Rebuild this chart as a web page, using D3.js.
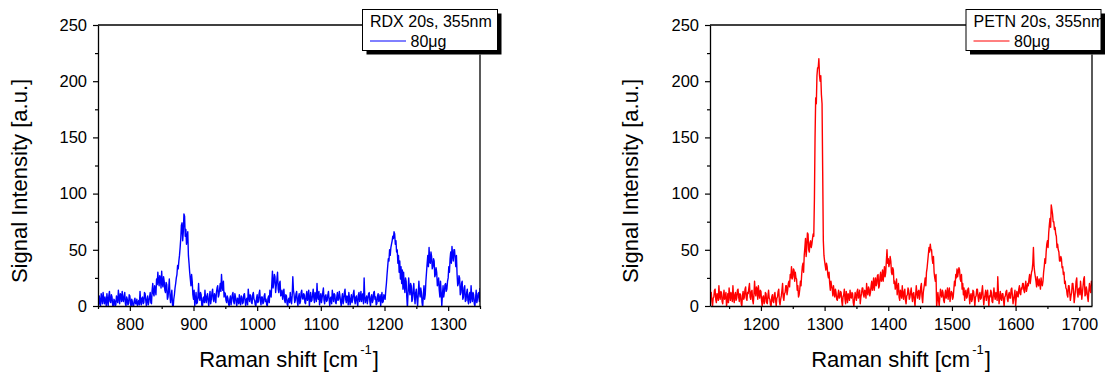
<!DOCTYPE html>
<html>
<head>
<meta charset="utf-8">
<script src="https://cdn.jsdelivr.net/npm/d3@7"></script>
<style>
  body { margin: 0; background: #fff; }
  svg { display: block; font-family: "Liberation Sans", Arial, sans-serif; }
</style>
</head>
<body>
<svg id="chart" width="1109" height="373"></svg>
<script>
// tick labels
const yTicks = [0, 50, 100, 150, 200, 250];
const rdxTicks = [800, 900, 1000, 1100, 1200, 1300];
const petnTicks = [1200, 1300, 1400, 1500, 1600, 1700];

// spectra, one value every 1 cm-1 (rows of 20)
const shiftStep = 1;
const rdxStart = 750;
const rdxIntensity = [
  5, 1, 9, 3, 0, 11, 7, 2, 12, 6, 2, 8, 4, 0, 11, 5, 0, 9, 13, 4,
  3, 10, 8, 1, -2, 6, 5, 0, 1, 9, 6, 3, 14, 7, 2, 11, 10, 4, 13, 6,
  4, 9, 12, 2, 0, 8, 6, 1, 2, 10, 9, 3, -1, 6, 4, 0, 0, 5, 7, 2,
  2, 6, 0, 3, 5, 1, 13, 4, 1, 7, 8, 2, 3, 12, 11, 5, 0, 6, 9, 1,
  4, 8, 12, 3, 2, 14, 20, 11, 9, 18, 15, 10, 24, 19, 30, 22, 18, 27, 25, 16,
  31, 20, 17, 26, 22, 14, 12, 21, 19, 6, 8, 15, 24, 10, 3, 9, 14, 1, -2, 6,
  10, 16, 20, 25, 28, 36, 33, 40, 45, 52, 60, 72, 74, 58, 66, 82, 80, 62, 68, 55,
  62, 66, 45, 38, 30, 24, 18, 28, 22, 10, 6, 14, 0, 5, 12, 2, 3, 9, 20, 7,
  5, 12, 10, 1, -2, 7, 8, 3, 14, 6, 3, 9, 11, 4, 0, 8, 13, 2, 6, 12,
  15, 6, 4, 11, 9, 3, 12, 16, 18, 8, 10, 15, 20, 13, 28, 17, 14, 22, 8, 12,
  11, 5, 3, 9, 7, 2, 0, 6, 9, 1, 5, 10, 12, 4, 2, 11, 8, 3, 0, 7,
  6, 2, 10, 4, 1, 9, 8, 2, 3, 10, 11, 5, 0, 6, 7, 1, 15, 8, 4, 10,
  9, 3, 2, 10, 12, 6, 5, 1, 0, 7, 10, 3, 4, 11, 14, 5, 1, 8, 8, 2,
  3, 9, 11, 4, 6, 1, 0, 7, 9, 3, 14, 10, 8, 20, 31, 16, 20, 28, 26, 12,
  18, 24, 30, 15, 12, 20, 22, 9, 10, 14, 6, 11, 15, 5, 3, 10, 9, 2, 0, 6,
  7, 3, 12, 6, 2, 9, 26, 14, 10, 3, 5, 11, 13, 4, 0, 8, 11, 2, 4, 12,
  14, 7, 6, 11, 10, 3, 2, 9, 13, 5, 8, 14, 0, 6, 12, 4, 5, 10, 15, 7,
  3, 12, 9, 4, 20, 8, 6, 13, 1, 7, 11, 3, 7, 12, 16, 5, 2, 9, 10, 4,
  5, 10, 13, 6, 0, 7, 8, 2, 14, 9, 4, 11, 10, 3, 2, 8, 12, 5, 6, 13,
  9, 4, 0, 7, 11, 2, 5, 12, 15, 6, 3, 9, 8, 1, 12, 7, 1, 6, 10, 3,
  6, 11, 14, 5, 2, 8, 9, 3, 0, 10, 12, 4, 7, 13, 4, 9, 11, 2, 25, 8,
  3, 7, 9, 2, 6, 11, 12, 4, 0, 8, 10, 3, 5, 12, 13, 6, 8, 1, 2, 9,
  11, 4, 6, 10, 0, 7, 12, 3, 4, 10, 9, 6, 14, 20, 28, 35, 42, 40, 50, 45,
  52, 55, 58, 62, 60, 66, 64, 55, 58, 48, 50, 38, 45, 30, 40, 24, 35, 20, 32, 15,
  30, 18, 12, 25, 22, 8, -2, 12, 25, 15, 10, 20, 18, 4, 6, 15, 20, 9, 2, 12,
  15, 6, 0, 10, 22, 12, 8, 16, 12, 3, -1, 10, 18, 6, 10, 22, 30, 38, 45, 35,
  52, 40, 38, 48, 44, 33, 35, 42, 40, 26, 28, 34, 30, 18, 20, 25, 14, 8, 22, 12,
  0, 10, 18, 8, 12, 19, 20, 13, 15, 22, 25, 35, 30, 42, 48, 38, 53, 45, 40, 50,
  50, 42, 35, 45, 28, 18, 20, 27, 25, 10, 12, 20, 22, 6, 8, 16, 18, 4, 5, 12,
  15, 5, 2, 10, 12, 3, 18, 8, 4, 12, 10, 2, 0, 7, 14, 3, 6, 11, 12, 4,
  16
];
const petnStart = 1120;
const petnIntensity = [
  5, 9, 12, 4, 0, 7, 8, 14, 15, 6, 3, 11, 10, 5, 18, 9, 6, 13, 12, 4,
  2, 9, 14, 6, 8, 12, 0, 5, 11, 3, 16, 10, 5, 12, 9, 4, 18, 8, 3, 10,
  12, 5, 7, 14, 15, 8, 4, 11, 10, 2, 0, 9, 13, 6, 8, 15, 17, 7, 5, 12,
  11, 16, 20, 8, 6, 13, 14, 5, 2, 10, 22, 12, 9, 17, 15, 6, 18, 11, 7, 14,
  13, 5, 0, 8, 9, 2, 4, 12, 11, 3, 2, 9, 14, 7, 6, 1, 0, 8, 10, 4,
  3, 10, 12, 5, 0, 7, 8, 13, 15, 4, 1, 6, 9, 14, 20, 8, 5, 11, 12, 18,
  18, 10, 14, 20, 22, 17, 28, 25, 35, 24, 26, 33, 32, 22, 30, 25, 24, 14, 18, 8,
  10, 15, 22, 18, 28, 35, 38, 30, 45, 52, 60, 44, 52, 65, 64, 50, 48, 56, 58, 52,
  55, 60, 64, 62, 95, 150, 185, 180, 205, 212, 212, 220, 205, 200, 205, 188, 180, 120, 58, 45,
  40, 36, 32, 38, 35, 28, 25, 30, 20, 14, 22, 18, 15, 9, 18, 12, 8, 15, 12, 6,
  5, 10, 14, 7, 8, 13, 12, 4, 0, 8, 10, 15, 6, 2, 13, 9, 3, 11, 9, 5,
  14, 8, 7, 12, 11, 3, 0, 6, 12, 9, 5, 13, 15, 7, 9, 14, 2, 8, 11, 16,
  16, 10, 8, 14, 13, 7, 20, 12, 10, 17, 15, 9, 12, 18, 22, 14, 18, 25, 14, 20,
  25, 18, 20, 27, 28, 16, 18, 26, 30, 22, 24, 32, 22, 28, 35, 26, 30, 40, 50, 38,
  42, 35, 38, 44, 40, 30, 28, 34, 32, 20, 22, 15, 18, 24, 10, 16, 20, 8, 5, 14,
  12, 7, 18, 10, 6, 13, 15, 5, 2, 9, 10, 16, 14, 6, 8, 12, 16, 9, 4, 11,
  12, 5, 0, 10, 18, 11, 7, 13, 14, 6, 10, 17, 20, 8, 3, 12, 16, 20, 25, 18,
  30, 34, 40, 46, 52, 48, 55, 50, 50, 42, 38, 44, 30, 25, 22, 28, -2, 6, 12, 5,
  0, 8, 15, 10, 8, 14, 12, 5, 3, 10, 14, 7, 10, 16, 6, 12, 16, 4, 9, 13,
  12, 6, 8, 15, 22, 18, 28, 25, 33, 26, 30, 34, 32, 24, 22, 28, 15, 20, 10, 16,
  5, 12, 14, 7, 8, 15, 16, 10, 2, 9, 11, 4, 6, 14, 13, 7, 0, 8, 9, 15,
  15, 8, 4, 10, 12, 6, 7, 13, 18, 9, 1, 7, 10, 14, 5, 11, 14, 6, 0, 9,
  8, 14, 12, 4, 3, 10, 16, 9, 6, 12, 10, 5, 26, 12, 2, 8, 13, 6, 5, 11,
  11, 5, 0, 8, 9, 13, 14, 6, 4, 10, 12, 7, 7, 15, 16, 9, 2, 6, 10, 14,
  0, 7, 13, 9, 8, 15, 18, 11, 10, 16, 15, 20, 20, 14, 12, 18, 22, 13, 16, 20,
  18, 24, 28, 20, 25, 30, 32, 38, 52, 35, 30, 26, 22, 17, 26, 20, 18, 24, 20, 15,
  25, 20, 18, 22, 30, 35, 42, 38, 48, 55, 58, 52, 65, 72, 78, 70, 90, 86, 82, 75,
  75, 68, 70, 64, 62, 52, 55, 50, 48, 40, 40, 44, 42, 34, 35, 28, 30, 20, 22, 16,
  15, 10, 8, 18, 18, 12, 5, 9, 12, 20, 20, 13, 3, 8, 14, 22, 25, 12, 8, 15,
  16, 10, 22, 15, 6, 12, 18, 24, 26, 9, 10, 17, 14, 8, 4, 13, 20, 14, 12, 22,
  18
];

const panels = [
  {id: 'rdx', title: 'RDX 20s, 355nm', label: '80μg', color: '#0000ff',
   start: rdxStart, values: rdxIntensity, domain: [750, 1350], ticks: rdxTicks,
   left: 98, legendX: 362.5, yTitleX: 26.5},
  {id: 'petn', title: 'PETN 20s, 355nm', label: '80μg', color: '#ff0000',
   start: petnStart, values: petnIntensity, domain: [1120, 1720], ticks: petnTicks,
   left: 710, legendX: 966, yTitleX: 638}
];

const svg = d3.select('#chart');
const plotW = 382, plotTop = 25, plotBottom = 306;
const legendW = 135, legendH = 41, legendY = 9.5;

function drawPanel(p) {
  const x = d3.scaleLinear().domain(p.domain).range([p.left, p.left + plotW]);
  const y = d3.scaleLinear().domain([0, 250]).range([plotBottom, plotTop]);
  const g = svg.append('g');

  g.append('clipPath').attr('id', 'clip-' + p.id)
    .append('rect')
    .attr('x', p.left).attr('y', plotTop)
    .attr('width', plotW).attr('height', plotBottom - plotTop);

  const line = d3.line()
    .x((d, i) => x(p.start + i * shiftStep))
    .y(d => y(d));

  g.append('path')
    .datum(p.values)
    .attr('clip-path', 'url(#clip-' + p.id + ')')
    .attr('fill', 'none')
    .attr('stroke', p.color)
    .attr('stroke-width', 1.4)
    .attr('stroke-linejoin', 'round')
    .attr('d', line);

  // minor ticks
  const xMinor = p.ticks.map(t => t - 50).concat([p.ticks[p.ticks.length - 1] + 50])
    .filter(t => t >= p.domain[0] && t <= p.domain[1]);
  g.append('g')
    .attr('transform', 'translate(0,' + plotBottom + ')')
    .call(d3.axisBottom(x).tickValues(xMinor).tickFormat('').tickSize(3).tickSizeOuter(0))
    .call(a => a.select('.domain').remove());
  g.append('g')
    .attr('transform', 'translate(' + p.left + ',0)')
    .call(d3.axisLeft(y).tickValues(d3.range(25, 250, 50)).tickFormat('').tickSize(3).tickSizeOuter(0))
    .call(a => a.select('.domain').remove());

  // major axes
  const xAxis = g.append('g')
    .attr('transform', 'translate(0,' + plotBottom + ')')
    .call(d3.axisBottom(x).tickValues(p.ticks).tickFormat(d3.format('d'))
      .tickSize(5).tickPadding(7).tickSizeOuter(0));
  const yAxis = g.append('g')
    .attr('transform', 'translate(' + p.left + ',0)')
    .call(d3.axisLeft(y).tickValues(yTicks).tickFormat(d3.format('d'))
      .tickSize(5).tickPadding(6).tickSizeOuter(0));

  g.selectAll('.tick line').attr('stroke', '#000').attr('stroke-width', 1.2);
  g.selectAll('.domain').attr('stroke', '#000').attr('stroke-width', 1.3);
  [xAxis, yAxis].forEach(a => a.selectAll('text')
    .attr('fill', '#000')
    .style('font-family', '"Liberation Sans", Arial, sans-serif')
    .style('font-size', '16.5px'));

  // top and right frame lines, interrupted by the legend
  g.append('line')
    .attr('x1', p.left).attr('x2', p.legendX)
    .attr('y1', plotTop).attr('y2', plotTop)
    .attr('stroke', '#000').attr('stroke-width', 1.3);
  g.append('line')
    .attr('x1', p.left + plotW).attr('x2', p.left + plotW)
    .attr('y1', legendY + legendH + 4).attr('y2', plotBottom)
    .attr('stroke', '#000').attr('stroke-width', 1.3);

  // axis titles
  g.append('text')
    .attr('transform', 'translate(' + p.yTitleX + ',181) rotate(-90)')
    .attr('text-anchor', 'middle')
    .style('font-size', '22px')
    .text('Signal Intensity [a.u.]');

  const xt = g.append('text')
    .attr('x', p.left + plotW / 2)
    .attr('y', 367)
    .attr('text-anchor', 'middle')
    .style('font-size', '22px');
  xt.append('tspan').text('Raman shift [cm');
  xt.append('tspan').attr('dy', -13).attr('dx', 2).style('font-size', '13px').text('-1');
  xt.append('tspan').attr('dy', 13).attr('dx', 1).text(']');

  // legend
  const lg = g.append('g').attr('transform', 'translate(' + p.legendX + ',' + legendY + ')');
  lg.append('rect')
    .attr('x', 4).attr('y', 4)
    .attr('width', legendW).attr('height', legendH)
    .attr('fill', '#000');
  lg.append('rect')
    .attr('width', legendW).attr('height', legendH)
    .attr('fill', '#fff').attr('stroke', '#000').attr('stroke-width', 1);
  lg.append('text')
    .attr('x', 7.5).attr('y', 17)
    .style('font-size', '16px')
    .text(p.title);
  lg.append('line')
    .attr('x1', 7.5).attr('x2', 43.5)
    .attr('y1', 31.5).attr('y2', 31.5)
    .attr('stroke', p.color).attr('stroke-width', 1);
  lg.append('text')
    .attr('x', 48).attr('y', 37)
    .style('font-size', '16px')
    .text(p.label);
}

panels.forEach(drawPanel);
</script>
</body>
</html>
